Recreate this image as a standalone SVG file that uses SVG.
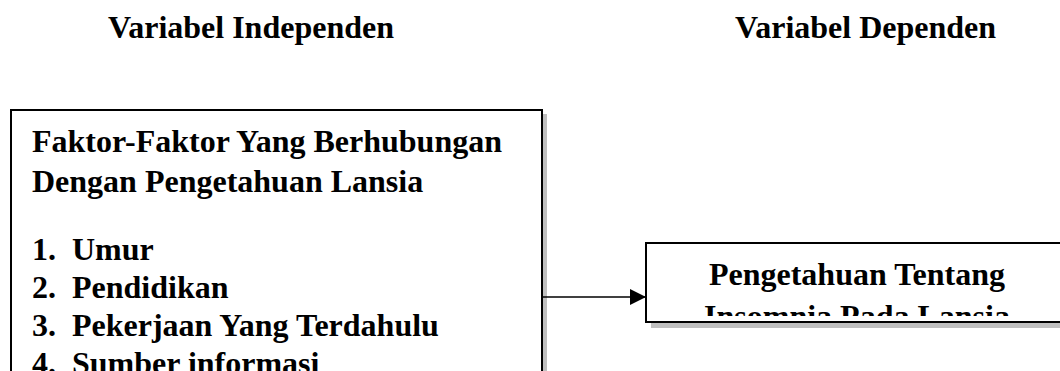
<svg xmlns="http://www.w3.org/2000/svg" width="1060" height="371" viewBox="0 0 1060 371">
  <style>
    .t { font-family: "Liberation Serif", "Times New Roman", serif; font-weight: bold; font-size: 32px; fill: #000; }
    .box { fill: #fff; stroke: #000; stroke-width: 2; }
    .shadow { fill: #bfbfbf; }
    .link { stroke: #000; stroke-width: 1.4; fill: none; }
  </style>
  <defs>
    <marker id="arrow" markerWidth="16" markerHeight="16" refX="16" refY="8" orient="auto" markerUnits="userSpaceOnUse">
      <path d="M0,0 L16,8 L0,16 Z" fill="#000"/>
    </marker>
    <!-- inner text area of the dependent box (text is cut at its lower margin) -->
    <clipPath id="clip-dep">
      <rect x="647" y="244" width="420" height="72"/>
    </clipPath>
  </defs>
  <rect width="1060" height="371" fill="#fff"/>

  <!-- column headings -->
  <g id="heading-independent">
    <text class="t" x="108" y="38">Variabel Independen</text>
  </g>
  <g id="heading-dependent">
    <text class="t" x="735" y="38">Variabel Dependen</text>
  </g>

  <!-- independent variable box -->
  <g id="node-independent">
    <rect class="shadow" x="16" y="114" width="531" height="270"/>
    <rect class="box" x="11" y="110" width="531" height="270"/>
    <text class="t" x="32" y="152">Faktor-Faktor Yang Berhubungan</text>
    <text class="t" x="32" y="192">Dengan Pengetahuan Lansia</text>
    <text class="t" x="32" y="260">1.</text>
    <text class="t" x="72" y="260">Umur</text>
    <text class="t" x="32" y="298">2.</text>
    <text class="t" x="72" y="298">Pendidikan</text>
    <text class="t" x="32" y="336">3.</text>
    <text class="t" x="72" y="336">Pekerjaan Yang Terdahulu</text>
    <text class="t" x="32" y="374">4.</text>
    <text class="t" x="72" y="374">Sumber informasi</text>
  </g>

  <!-- dependent variable box -->
  <g id="node-dependent">
    <rect class="shadow" x="651" y="247" width="420" height="81"/>
    <rect class="box" x="646" y="243" width="420" height="79"/>
    <g clip-path="url(#clip-dep)">
      <text class="t" x="857" y="285" text-anchor="middle">Pengetahuan Tentang</text>
      <text class="t" x="857" y="327" text-anchor="middle">Insomnia Pada Lansia</text>
    </g>
  </g>

  <!-- connectors -->
  <g id="connectors">
    <line class="link" x1="543" y1="297" x2="646" y2="297" marker-end="url(#arrow)"/>
  </g>
</svg>
